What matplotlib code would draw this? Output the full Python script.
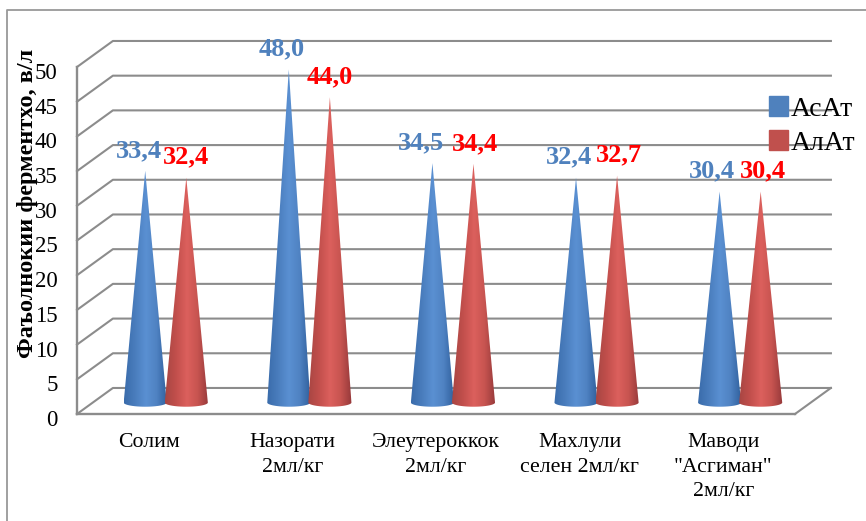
import matplotlib
matplotlib.use("Agg")
import matplotlib.pyplot as plt
import numpy as np
from matplotlib.colors import LinearSegmentedColormap
from matplotlib.patches import Patch, Polygon
from matplotlib.transforms import ScaledTranslation

categories = ['Солим', 'Назорати\n2мл/кг', 'Элеутероккок\n2мл/кг', 'Махлули\nселен 2мл/кг', 'Маводи\n"Асгиман"\n2мл/кг']
asat = [33.4, 48.0, 34.5, 32.4, 30.4]
alat = [32.4, 44.0, 34.4, 32.7, 30.4]
asat_labels = ['33,4', '48,0', '34,5', '32,4', '30,4']
alat_labels = ['32,4', '44,0', '34,4', '32,7', '30,4']
y_ticks = [0, 5, 10, 15, 20, 25, 30, 35, 40, 45, 50]
series_names = ['АсАт', 'АлАт']
y_title = 'Фаъолнокии ферментхо, в/л'

plt.rcParams['font.family'] = ['Liberation Serif', 'DejaVu Serif']
W, H = 866, 521
GRID = '#8c8c8c'
depth_x = 0.25
depth_y = 3.75
cone_half = 0.15
cone_base = 1.65
ellipse_h = 0.6

blue_map = LinearSegmentedColormap.from_list('b', ['#3a6cab', '#4a7dbd', '#5a90d2', '#4f82c2', '#2f5f9c'])
red_map = LinearSegmentedColormap.from_list('r', ['#a84643', '#c24f4c', '#dc605d', '#c75450', '#96393a'])

fig = plt.figure(figsize=(W / 100, H / 100), dpi=100)
ax = fig.add_axes([77 / W, 1 - 414 / H, (795 - 77) / W, (414 - 67) / H])
ax.set_xlim(0, 5)
ax.set_ylim(0, 50)

# frame of the chart area
fig.add_artist(plt.Line2D([7 / W, 7 / W, 1], [0, 1 - 10 / H, 1 - 10 / H], color='#999999', lw=1.3))

# walls
for v in y_ticks:
    ax.plot([0, depth_x, 5 + depth_x], [v, v + depth_y, v + depth_y], color=GRID, lw=1.5, clip_on=False, zorder=1)
ax.plot([5, 5 + depth_x], [0, depth_y], color=GRID, lw=1.5, clip_on=False, zorder=1)
for s in ['top', 'right']:
    ax.spines[s].set_visible(False)
for s in ['left', 'bottom']:
    ax.spines[s].set_color(GRID)
    ax.spines[s].set_linewidth(1.7)


def draw_cone(x, value, cmap):
    t = np.linspace(0, np.pi, 40)
    arc_x = x + cone_half * np.cos(t)
    arc_y = cone_base - ellipse_h * np.sin(t)
    tip = cone_base + value
    pts = [(x, tip)] + list(zip(arc_x, arc_y))
    poly = Polygon(pts, closed=True, transform=ax.transData, fc='none', ec='none')
    ax.add_patch(poly)
    grad = np.linspace(0, 1, 64).reshape(1, -1)
    im = ax.imshow(grad, cmap=cmap, aspect='auto', zorder=3,
                   extent=[x - cone_half, x + cone_half, cone_base - ellipse_h, tip])
    im.set_clip_path(poly)
    return tip


blue_nudge = [-6, -7, -11, -7, -8]
red_nudge = [0, 0, 2, 2, 2]
for i in range(5):
    centre = i + 0.5 + depth_x / 2 - 0.007
    tip = draw_cone(centre - 0.143, asat[i], blue_map)
    ax.annotate(asat_labels[i], (centre - 0.143, tip), xytext=(blue_nudge[i] * 0.72, 10),
                textcoords='offset points', ha='center', va='baseline', color='#4f81bd',
                fontsize=19, fontweight='bold', zorder=5, annotation_clip=False)
    tip = draw_cone(centre + 0.143, alat[i], red_map)
    ax.annotate(alat_labels[i], (centre + 0.143, tip), xytext=(red_nudge[i] * 0.72, 10),
                textcoords='offset points', ha='center', va='baseline', color='#ff0000',
                fontsize=19, fontweight='bold', zorder=5, annotation_clip=False)

ax.set_xlim(0, 5)
ax.set_ylim(0, 50)
ax.set_xticks([i + 0.5 for i in range(5)])
ax.set_xticklabels(categories, fontsize=15.7, linespacing=1.38)
ax.set_yticks(y_ticks)
ax.tick_params(axis='x', length=0, pad=14)
ax.tick_params(axis='y', length=0, pad=14, labelsize=16.5)
for lab in ax.get_yticklabels():
    lab.set_transform(lab.get_transform() + ScaledTranslation(0, -4 / 100, fig.dpi_scale_trans))
ax.patch.set_alpha(0)

fig.text(28 / W, 1 - 203 / H, y_title, rotation=90, ha='center', va='center', fontsize=17.5, fontweight='bold')

handles = [Patch(color='#4f81bd', label=series_names[0]), Patch(color='#c0504d', label=series_names[1])]
fig.legend(handles=handles, loc='center left', bbox_to_anchor=(744 / W, 1 - 126 / H), frameon=False,
           fontsize=20, handlelength=0.7, handleheight=0.7, handletextpad=0.1, labelspacing=0.32)

fig.savefig('out.png', dpi=100, facecolor='white')
